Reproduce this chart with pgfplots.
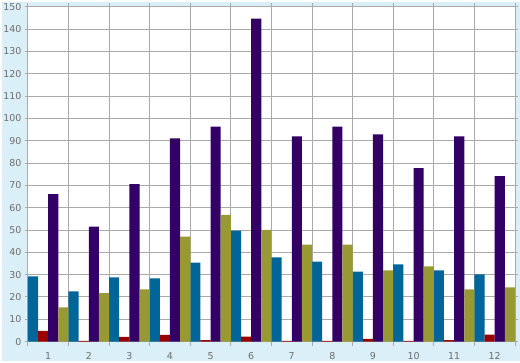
\documentclass[border=0pt]{standalone}
\usepackage{fontspec}
\setmainfont{DejaVu Sans}
\usepackage{pgfplots}
\pgfplotsset{compat=1.18}
\definecolor{bgc}{HTML}{DAEFF7}
\definecolor{gridc}{HTML}{AAAAAA}
\definecolor{txtc}{HTML}{6E6E6E}
\definecolor{cteal}{HTML}{006699}
\definecolor{cred}{HTML}{990000}
\definecolor{cpurple}{HTML}{330066}
\definecolor{colive}{HTML}{999933}
\begin{document}
\begin{tikzpicture}[x=1pt,y=1pt]
\fill[bgc] (0,0) rectangle (520,360);
\begin{axis}[
  at={(26pt,19pt)}, anchor=south west,
  scale only axis, width=489pt, height=336pt,
  xmin=0.5, xmax=12.5, ymin=0, ymax=150,
  axis background/.style={fill=white},
  axis line style={draw=none},
  xtick={1,...,12},
  major x tick style={draw=none},
  minor xtick={0.5,1.5,...,12.5},
  minor x tick style={gridc, line width=1pt},
  minor tick length=4pt,
  xminorgrids=true,
  ytick={0,10,...,150},
  ymajorgrids=true,
  y tick style={gridc, line width=1pt},
  major tick length=3pt,
  tick align=outside,
  grid style={gridc, line width=1pt},
  minor grid style={gridc, line width=1pt},
  /pgf/number format/assume math mode=true,
  ticklabel style={font=\fontsize{9.5}{11}\selectfont, text=txtc},
  xticklabel style={yshift=-4pt},
  yticklabel style={xshift=0pt},
  clip=false,
]
\addplot[ybar, bar width=10.1875pt, bar shift=-15.28125pt, fill=cteal, draw=none] coordinates {
(1,29.2) (2,22.5) (3,28.8) (4,28.3) (5,35.4) (6,49.7) (7,37.7) (8,35.9) (9,31.4) (10,34.6) (11,31.9) (12,30.1)};
\addplot[ybar, bar width=10.1875pt, bar shift=-5.09375pt, fill=cred, draw=none] coordinates {
(1,4.8) (2,0.3) (3,2.1) (4,3.0) (5,0.7) (6,2.2) (7,0.3) (8,0.3) (9,1.2) (10,0.3) (11,0.7) (12,3.1)};
\addplot[ybar, bar width=10.1875pt, bar shift=5.09375pt, fill=cpurple, draw=none] coordinates {
(1,66.1) (2,51.5) (3,70.6) (4,91.1) (5,96.4) (6,144.8) (7,92.0) (8,96.4) (9,92.9) (10,77.8) (11,92.0) (12,74.2)};
\addplot[ybar, bar width=10.1875pt, bar shift=15.28125pt, fill=colive, draw=none] coordinates {
(1,15.4) (2,21.7) (3,23.4) (4,47.0) (5,56.8) (6,50.1) (7,43.5) (8,43.5) (9,31.9) (10,33.7) (11,23.4) (12,24.3)};
\end{axis}
\end{tikzpicture}
\end{document}
